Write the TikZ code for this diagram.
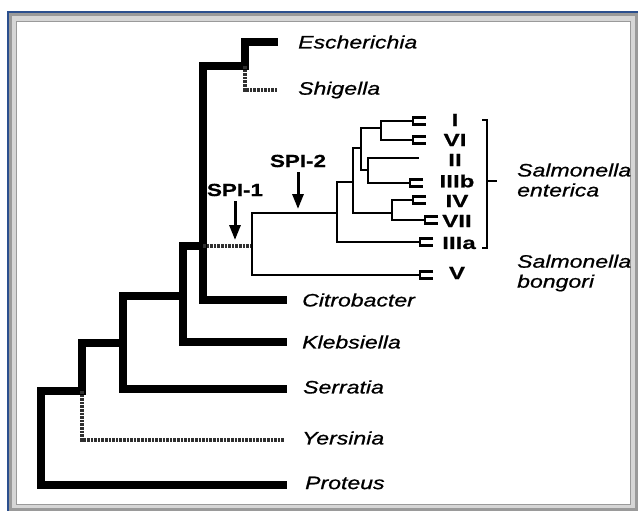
\documentclass[tikz,border=0pt]{standalone}
\usepackage{fontspec}
\setmainfont{Liberation Sans}
\newfontfamily\taxfont[FakeStretch=1.28,FakeBold=0.8]{Liberation Sans}
\newfontfamily\romfont[FakeStretch=1.38,FakeBold=0.8]{Liberation Sans}
\usetikzlibrary{arrows.meta}
\definecolor{frameblue}{HTML}{2B4F8E}
\definecolor{framegray}{HTML}{9A9A9A}
\definecolor{framelite}{HTML}{D6D6D6}
\definecolor{stipple}{HTML}{303030}
\tikzset{
  trunk/.style   ={line width=8.5pt, line cap=rect},
  % dotted branches: no island present
  stippled/.style={line width=4pt, draw=stipple, dash pattern=on 2.6pt off 1pt},
  twig/.style    ={line width=2.7pt, line cap=rect},
  spi/.style     ={line width=3pt, -{Triangle[length=15pt,width=11pt]}, shorten <=5pt},
  taxon/.style   ={anchor=west, inner sep=0pt, align=left,
                   font=\taxfont\itshape\fontsize{18}{20}\selectfont},
  serovar/.style ={inner sep=0pt, font=\romfont\bfseries\fontsize{17.5}{18}\selectfont},
  tag/.style     ={inner sep=0pt, font=\taxfont\bfseries\fontsize{17.5}{19}\selectfont},
  fork/.pic      ={\draw[line width=2.4pt] (13,-3.6) -- (0,-3.6) -- (0,3.6) -- (13,3.6);},
}
\begin{document}
\begin{tikzpicture}[x=1pt, y=-1pt]
  \useasboundingbox (0,0) rectangle (638,511);
  % frame
  \fill[framegray] (9,13) rectangle (638,511);
  \fill[framelite] (12,16) rectangle (635,508);
  \fill[white] (16,21) rectangle (631,505);
  \draw[framegray, line width=1pt] (16.5,21.5) rectangle (630.5,504.5);
  \draw[frameblue, line width=2pt] (8,511) -- (8,12) -- (638,12);

  % inner nodes
  \coordinate (root) at (41,391);
  \coordinate (nA)   at (82,391);
  \coordinate (nB)   at (123,343);
  \coordinate (nC)   at (183,296);
  \coordinate (nD)   at (203,246);
  \coordinate (nE)   at (245,66);
  % leaf ends
  \coordinate (esch) at (274,42);
  \coordinate (shig) at (277,90);
  \coordinate (citr) at (283,300);
  \coordinate (kleb) at (283,342);
  \coordinate (serr) at (283,389);
  \coordinate (yers) at (285,440);
  \coordinate (prot) at (283,485);

  \draw[trunk] (root) |- (nA);
  \draw[trunk] (root) |- (prot);
  \draw[trunk] (nA) |- (nB);
  \draw[stippled] (nA) |- (yers);
  \draw[trunk] (nB) |- (nC);
  \draw[trunk] (nB) |- (serr);
  \draw[trunk] (nC) |- (nD);
  \draw[trunk] (nC) |- (kleb);
  \draw[trunk] (nD) |- (nE);
  \draw[trunk] (nD) |- (citr);
  \draw[trunk] (nE) |- (esch);
  \draw[stippled] (nE) |- (shig);

  % Salmonella
  \coordinate (s0) at (252,246);
  \coordinate (s1) at (337,213);
  \coordinate (s2) at (353,182);
  \coordinate (s3) at (361,148);
  \coordinate (s4) at (392,213);
  \coordinate (s5) at (381,128);
  \coordinate (s6) at (368,170);
  \coordinate (vI)    at (413,121);
  \coordinate (vVI)   at (413,140);
  \coordinate (vII)   at (418,158);
  \coordinate (vIIIb) at (410,183);
  \coordinate (vIV)   at (413,200);
  \coordinate (vVII)  at (425,220);
  \coordinate (vIIIa) at (420,242);
  \coordinate (vV)    at (420,275);

  \draw[stippled] (nD) -- (s0);
  \draw[twig] (s0) |- (s1);   \draw[twig] (s0) |- (vV);
  \draw[twig] (s1) |- (s2);   \draw[twig] (s1) |- (vIIIa);
  \draw[twig] (s2) |- (s3);   \draw[twig] (s2) |- (s4);
  \draw[twig] (s3) |- (s5);   \draw[twig] (s3) |- (s6);
  \draw[twig] (s5) |- (vI);   \draw[twig] (s5) |- (vVI);
  \draw[twig] (s6) |- (vII);  \draw[twig] (s6) |- (vIIIb);
  \draw[twig] (s4) |- (vIV);  \draw[twig] (s4) |- (vVII);
  \foreach \v in {vI,vVI,vIIIb,vIV,vVII,vIIIa,vV}
    \pic at (\v) {fork};

  % labels
  \node[taxon] (lesch) at (298,42)  {Escherichia};
  \node[taxon] (lshig) at (298,90)  {Shigella};
  \node[taxon] (lcitr) at (302,300) {Citrobacter};
  \node[taxon] (lkleb) at (302,342) {Klebsiella};
  \node[taxon] (lserr) at (303,387) {Serratia};
  \node[taxon] (lyers) at (302,438) {Yersinia};
  \node[taxon] (lprot) at (305,483) {Proteus};
  \node[taxon] (lent)  at (517,180) {Salmonella\\enterica};
  \node[taxon] (lbon)  at (517,273) {Salmonella\\bongori};

  \node[serovar] (rI)    at (455,120) {I};
  \node[serovar] (rVI)   at (455,140) {VI};
  \node[serovar] (rII)   at (455,160) {II};
  \node[serovar] (rIIIb) at (457,181) {IIIb};
  \node[serovar] (rIV)   at (457,201) {IV};
  \node[serovar] (rVII)  at (457,221) {VII};
  \node[serovar] (rIIIa) at (459,243) {IIIa};
  \node[serovar] (rV)    at (457,273) {V};
  \draw[line width=2.2pt] (482,120) -- (487,120) -- (487,248) -- (482,248);
  \draw[line width=2.2pt] (487,181) -- (497,181);

  % islands
  \node[tag] (spi1) at (235,190) {SPI-1};
  \node[tag] (spi2) at (298,161) {SPI-2};
  \coordinate (spi1tip) at (235,240);
  \coordinate (spi2tip) at (298,209);
  \draw[spi] (spi1) -- (spi1tip);
  \draw[spi] (spi2) -- (spi2tip);
\end{tikzpicture}
\end{document}
